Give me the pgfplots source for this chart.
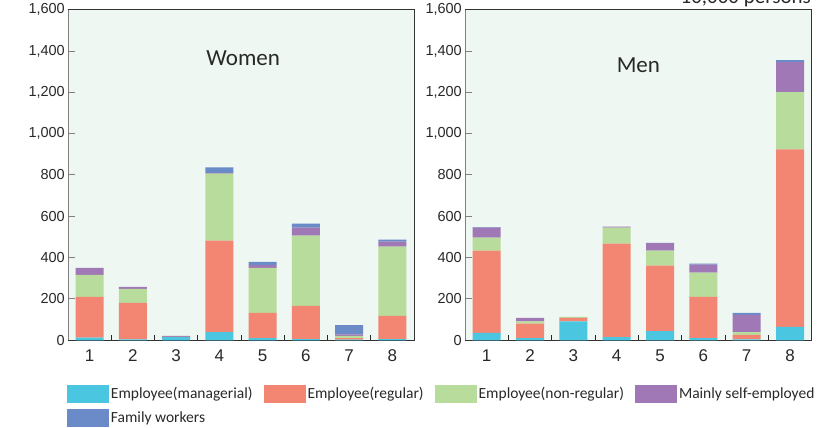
\documentclass[border=0pt]{standalone}
\usepackage{pgfplots}
\pgfplotsset{compat=1.18}
\usepackage{pgfplotstable}
\usepackage{fontspec}
\setmainfont{Carlito}
\newfontfamily\tickfont{Liberation Sans}
\definecolor{cman}{RGB}{75,198,225}
\definecolor{creg}{RGB}{243,134,115}
\definecolor{cnon}{RGB}{184,220,156}
\definecolor{cself}{RGB}{160,120,181}
\definecolor{cfam}{RGB}{107,138,200}
\definecolor{bgmint}{RGB}{238,247,241}
\definecolor{txt}{RGB}{40,40,40}

\pgfplotstableread{
cat man reg non self fam
1 13 197 107 34 0
2 5 176 68 10 0
3 15 1 1 4 0
4 40 442 325 2 28
5 11 122 218 13 16
6 6 161 339 39 20
7 3 8 10 8 45
8 6 112 335 24 10
}\women

\pgfplotstableread{
cat man reg non self fam
1 36 398 63 48 3
2 11 70 10 17 0
3 91 17 5 0 0
4 15 453 77 5 0
5 45 316 73 36 2
6 11 199 117 39 5
7 5 21 14 83 10
8 65 859 277 145 10
}\men

\pgfplotsset{
  panel/.style={
    scale only axis,
    anchor=south west,
    width=346pt, height=330.6pt,
    xmin=0.5, xmax=8.5, ymin=0, ymax=1600,
    ybar stacked, bar width=28pt,
    axis background/.style={fill=bgmint},
    axis line style={draw=black!80, line width=0.9pt},
    xtick={1,...,8},
    minor xtick={1.5,2.5,...,7.5},
    major x tick style={draw=none},
    minor x tick style={draw=black!85, line width=0.9pt},
    minor tick length=5pt,
    ytick={0,200,...,1600},
    y tick style={draw=black!50, line width=1pt},
    major tick length=7pt,
    tick align=inside,
    xtick pos=bottom, ytick pos=left,
    /pgf/number format/1000 sep={,},
    /pgf/number format/assume math mode=true,
    yticklabel style={font=\tickfont\fontsize{14.5}{16}\selectfont, text=txt, inner xsep=3pt},
    xticklabel style={font=\tickfont\fontsize{17}{19}\selectfont, text=txt, yshift=-6pt},
    legend image code/.code={\fill[##1] (0pt,-9pt) rectangle (42pt,9pt);},
  },
}

\begin{document}
\begin{tikzpicture}[x=1pt,y=1pt]
\useasboundingbox (0,0) rectangle (832,428);

\begin{axis}[panel, at={(68pt,87.7pt)},
  legend columns=4,
  legend cell align=left,
  legend style={at={(axis description cs:-0.003,-0.1352)}, anchor=north west,
    draw=none, fill=none, inner sep=0pt, outer sep=0pt,
    font=\fontsize{15.5}{18}\selectfont, text=txt,
    row sep=6pt,
    nodes={inner xsep=2pt, inner ysep=0pt},
    /tikz/every even column/.append style={column sep=9pt}},
]
\addplot[fill=cman, draw=none] table[x=cat,y=man]{\women};
\addplot[fill=creg, draw=none] table[x=cat,y=reg]{\women};
\addplot[fill=cnon, draw=none] table[x=cat,y=non]{\women};
\addplot[fill=cself, draw=none] table[x=cat,y=self]{\women};
\addplot[fill=cfam, draw=none] table[x=cat,y=fam]{\women};
\addlegendentry{Employee(managerial)}
\addlegendentry{Employee(regular)}
\addlegendentry{Employee(non-regular)}
\addlegendentry{Mainly self-employed}
\addlegendentry{Family workers}
\draw[black!50, line width=2pt] (rel axis cs:0,0) -- (rel axis cs:0,1);
\node[font=\fontsize{23}{26}\selectfont, text=txt] at (axis cs:4.55,1366) {Women};
\end{axis}

\begin{axis}[panel, at={(465pt,87.7pt)}, width=346.7pt]
\addplot[fill=cman, draw=none] table[x=cat,y=man]{\men};
\addplot[fill=creg, draw=none] table[x=cat,y=reg]{\men};
\addplot[fill=cnon, draw=none] table[x=cat,y=non]{\men};
\addplot[fill=cself, draw=none] table[x=cat,y=self]{\men};
\addplot[fill=cfam, draw=none] table[x=cat,y=fam]{\men};
\draw[black!50, line width=2pt] (rel axis cs:0,0) -- (rel axis cs:0,1);
\node[font=\fontsize{23}{26}\selectfont, text=txt] at (axis cs:4.5,1330) {Men};
\end{axis}

\node[anchor=base east, font=\fontsize{21}{24}\selectfont, text=txt, inner sep=0pt] at (811,424) {10,000 persons};
\end{tikzpicture}
\end{document}
